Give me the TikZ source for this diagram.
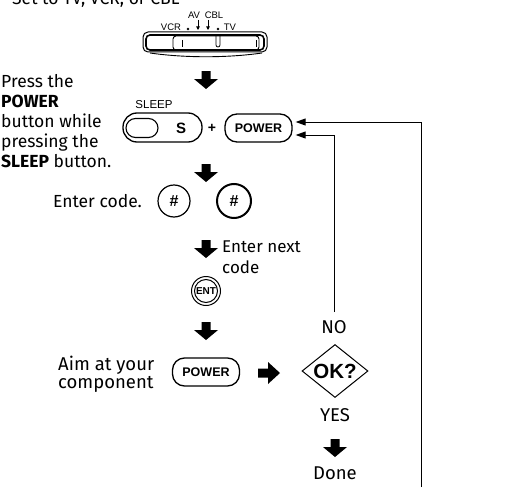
\documentclass[tikz,border=0pt]{standalone}
\usepackage{fontspec}
\setmainfont{Fira Sans}
\newfontfamily\hel{Liberation Sans}
\usetikzlibrary{shapes.geometric,arrows.meta,calc}
\begin{document}
\begin{tikzpicture}[x=1pt,y=-1pt,
 dnarrow/.pic={\fill (-4.5,-9) -- (4.5,-9) -- (4.5,-1) -- (12,-1) -- (0,9) -- (-12,-1) -- (-4.5,-1) -- cycle;},
 rtarrow/.pic={\fill (-11,-4.5) -- (-1,-4.5) -- (-1,-11) -- (11,0) -- (-1,11) -- (-1,4.5) -- (-11,4.5) -- cycle;},
 txt/.style={font=\fontsize{17.5}{20}\selectfont, inner sep=0pt, align=left},
 btn/.style={draw, line width=1.3pt, rounded corners=12pt, minimum width=67pt, minimum height=28pt,
   font=\hel\bfseries\fontsize{12.5}{14}\selectfont, inner sep=0pt},
 lbl/.style={font=\hel\fontsize{9.5}{10}\selectfont, inner sep=0pt},
 conn/.style={line width=0.9pt, -{Triangle[length=10pt,width=7pt]}},
]
\fill[white] (0,0) rectangle (508,487);
\useasboundingbox (0,0) rectangle (508,487);
\begin{scope}
\clip (0,0) rectangle (508,487);
\node[txt, anchor=base west] (title) at (12,5) {Set to TV, VCR, or CBL};
\end{scope}

% switch
\draw[line width=1pt, rounded corners=5pt] (143,32) rectangle (267,52);
\draw[line width=1.6pt, rounded corners=4pt] (146,35) rectangle (264,50);
\draw[line width=0.9pt, rounded corners=3pt] (173,36) rectangle (259,50);
\draw[line width=0.9pt] (150,53) .. controls (185,58) and (227,58) .. (262,53);
\draw[line width=0.8pt] (182,40) -- (182,47);
\draw[line width=0.8pt] (256,40) -- (256,47);
\draw[line width=0.8pt] (216,36) -- (216,45) arc[start angle=180,end angle=0,radius=2] -- (220,36);
\node[lbl] (vcr) at (171,27) {VCR};
\node[lbl] (tv) at (230,27) {TV};
\node[lbl] (av) at (194,15) {AV};
\node[lbl] (cbl) at (214,15) {CBL};
\fill (188,29) circle (1.3);
\fill (218,29) circle (1.3);
\draw[line width=0.7pt, -{Triangle[length=3.5pt,width=3.5pt]}] (198,20) -- (198,30);
\draw[line width=0.7pt, -{Triangle[length=3.5pt,width=3.5pt]}] (208,20) -- (208,30);

% block arrows
\pic (a1) at (206,80) {dnarrow};
\pic (a2) at (206,173) {dnarrow};
\pic (a3) at (206,249) {dnarrow};
\pic (a4) at (206,331) {dnarrow};
\pic (ar) at (269,373) {rtarrow};
\pic (a5) at (335,448) {dnarrow};

% left text
\node[txt, anchor=north west] (press) at (1,74) {Press the\\\textbf{POWER}\\button while\\pressing the\\\textbf{SLEEP} button.};

% sleep button
\node[draw, line width=1.3pt, rounded corners=14pt, minimum width=79pt, minimum height=29pt, inner sep=0pt] (sleep) at (162.5,127.5) {};
\node[draw, line width=1.1pt, rounded corners=9.5pt, minimum width=32pt, minimum height=19pt, inner sep=0pt] (sleepin) at (142,128) {};
\node[font=\hel\bfseries\fontsize{15}{16}\selectfont, inner sep=0pt] (s) at (181,128) {S};
\node[font=\hel\fontsize{11.5}{12}\selectfont, inner sep=0pt] (sleeplbl) at (154,105) {SLEEP};
\node[font=\hel\bfseries\fontsize{14}{15}\selectfont, inner sep=0pt] (plus) at (212,128) {+};
\node[btn] (pow1) at (258.5,128) {POWER};

% enter code
\node[txt, anchor=base east] (entercode) at (142,207) {Enter code.};
\node[draw, circle, line width=1.2pt, minimum size=32pt, inner sep=0pt, font=\hel\bfseries\fontsize{16}{17}\selectfont] (h1) at (174,201) {\#};
\node[draw, circle, line width=2pt, minimum size=34pt, inner sep=0pt, font=\hel\bfseries\fontsize{16}{17}\selectfont] (h2) at (234,201) {\#};

\node[txt, anchor=base west, font=\fontsize{17}{20.5}\selectfont] (next) at (222,273) {Enter next\\code};

% ENT
\node[draw, circle, line width=1pt, minimum size=29pt, inner sep=0pt] (ento) at (206,291) {};
\node[draw, circle, line width=1pt, minimum size=23pt, inner sep=0pt, font=\hel\bfseries\fontsize{10}{11}\selectfont] (ent) at (206,291) {ENT};

% aim
\node[txt, anchor=base west, font=\fontsize{18.5}{18}\selectfont] (aim) at (58,388) {Aim at your\\component};
\node[btn] (pow2) at (206,372) {POWER};

% decision
\node[draw, diamond, aspect=1.25, line width=1pt, minimum width=66pt, minimum height=53pt, inner sep=0pt,
  font=\hel\bfseries\fontsize{20.5}{22}\selectfont] (ok) at (335,371) {OK?};
\node[txt, font=\fontsize{18.5}{20}\selectfont] (no) at (334,327) {NO};
\node[txt, font=\fontsize{18.5}{20}\selectfont] (yes) at (335,415) {YES};
\node[txt, font=\fontsize{18.5}{20}\selectfont] (done) at (335,473) {Done};

% connectors
\coordinate (loopend) at (421,487);
\draw[conn, shorten <=8pt] (no.north) |- ([xshift=3pt,yshift=-7pt]pow1.east);
\draw[conn] (loopend) |- ([xshift=3pt,yshift=6pt]pow1.east);
\end{tikzpicture}
\end{document}
